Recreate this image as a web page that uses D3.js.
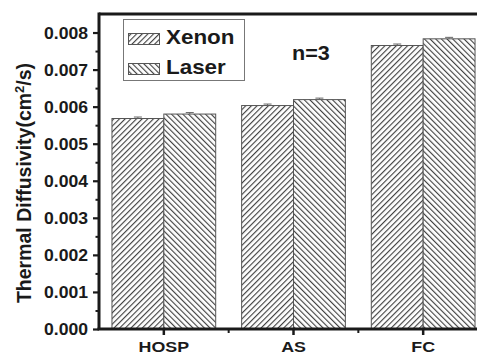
<!DOCTYPE html>
<html>
<head>
<meta charset="utf-8">
<script src="https://cdn.jsdelivr.net/npm/d3@7"></script>
<style>
  html, body { margin: 0; padding: 0; background: #fff; }
  svg { display: block; }
  text { font-family: "Liberation Sans", Arial, sans-serif; font-weight: bold; fill: #1a1a1a; }
</style>
</head>
<body>
<svg id="chart" width="477" height="356"></svg>
<script>
const categories = ["HOSP", "AS", "FC"];
const seriesNames = ["Xenon", "Laser"];
const xenonValues = [0.00568, 0.00603, 0.00765];
const laserValues = [0.00580, 0.00619, 0.00783];
const xenonErrors = [0.00004, 0.00004, 0.00004];
const laserErrors = [0.00004, 0.00004, 0.00004];
const yTickValues = [0, 0.001, 0.002, 0.003, 0.004, 0.005, 0.006, 0.007, 0.008];
const yMinorTicks = [0.0005, 0.0015, 0.0025, 0.0035, 0.0045, 0.0055, 0.0065, 0.0075];
const annotation = "n=3";

(function () {
const svg = d3.select("#chart");
const pLeft = 99, pRight = 488, pTop = 14, pBottom = 329;

const x = d3.scaleBand().domain(categories).range([pLeft, pRight]).paddingInner(0.2).paddingOuter(0.1);
const xs = d3.scaleBand().domain(seriesNames).range([0, x.bandwidth()]);
const y = d3.scaleLinear().domain([0, 0.0085]).range([pBottom, pTop]);

// patterns
const defs = svg.append("defs");
const hs = 4.0;
function hatch(id, angle) {
  const p = defs.append("pattern").attr("id", id).attr("patternUnits", "userSpaceOnUse")
    .attr("width", hs).attr("height", 10).attr("patternTransform", `rotate(${angle})`);
  p.append("rect").attr("width", hs).attr("height", 10).attr("fill", "#fff");
  p.append("line").attr("x1", 0.6).attr("y1", 0).attr("x2", 0.6).attr("y2", 10)
    .attr("stroke", "#333").attr("stroke-width", 1.05);
}
hatch("hatchX", 45);
hatch("hatchL", -45);
const fills = { Xenon: "url(#hatchX)", Laser: "url(#hatchL)" };

const rows = categories.map((c, i) => ({
  cat: c,
  vals: [
    { s: "Xenon", v: xenonValues[i], e: xenonErrors[i] },
    { s: "Laser", v: laserValues[i], e: laserErrors[i] }
  ]
}));

// bars
const g = svg.append("g");
rows.forEach(r => {
  r.vals.forEach(d => {
    const bx = x(r.cat) + xs(d.s);
    g.append("rect")
      .attr("x", bx).attr("y", y(d.v))
      .attr("width", xs.bandwidth()).attr("height", y(0) - y(d.v))
      .attr("fill", fills[d.s]).attr("stroke", "#555").attr("stroke-width", 1);
    const cx = bx + xs.bandwidth() / 2;
    g.append("line").attr("x1", cx).attr("x2", cx).attr("y1", y(d.v)).attr("y2", y(d.v + d.e))
      .attr("stroke", "#666").attr("stroke-width", 1);
    g.append("line").attr("x1", cx - 4).attr("x2", cx + 4).attr("y1", y(d.v + d.e)).attr("y2", y(d.v + d.e))
      .attr("stroke", "#666").attr("stroke-width", 1);
  });
});

// frame top / right
svg.append("line").attr("x1", pLeft).attr("x2", pRight).attr("y1", pTop).attr("y2", pTop)
  .attr("stroke", "#1a1a1a").attr("stroke-width", 3);
svg.append("line").attr("x1", pRight).attr("x2", pRight).attr("y1", pTop).attr("y2", pBottom)
  .attr("stroke", "#1a1a1a").attr("stroke-width", 3);

// y axis
const yAxis = svg.append("g").attr("transform", `translate(${pLeft},0)`)
  .call(d3.axisLeft(y).tickValues(yTickValues).tickFormat(d3.format(".3f")).tickSize(6).tickSizeOuter(0));
yAxis.select(".domain").attr("stroke", "#1a1a1a").attr("stroke-width", 3).attr("d", `M0,${pTop - 1.5}V${pBottom}`);
yAxis.selectAll(".tick line").attr("stroke", "#1a1a1a").attr("stroke-width", 2.2);
yAxis.selectAll(".tick text")
  .attr("x", 0).attr("dy", null)
  .attr("transform", `translate(-11,5.8) scale(1.1,1)`)
  .style("font-size", "16px").attr("fill", "#1a1a1a")
  .attr("font-family", null);
svg.append("g").attr("transform", `translate(${pLeft},0)`)
  .call(d3.axisLeft(y).tickValues(yMinorTicks).tickSize(3.5).tickFormat(""))
  .call(a => { a.select(".domain").remove(); a.selectAll(".tick line").attr("stroke", "#1a1a1a").attr("stroke-width", 2); });

// x axis
const xAxis = svg.append("g").attr("transform", `translate(0,${pBottom})`)
  .call(d3.axisBottom(x).tickSize(6).tickSizeOuter(0));
xAxis.select(".domain").attr("stroke", "#1a1a1a").attr("stroke-width", 3).attr("d", `M${pLeft - 1.5},0H${pRight}`);
xAxis.selectAll(".tick line").attr("stroke", "#1a1a1a").attr("stroke-width", 2.5);
xAxis.selectAll(".tick text")
  .attr("y", 0).attr("dy", null)
  .attr("transform", `translate(0,23) scale(1.15,1)`)
  .style("font-size", "15.5px").attr("fill", "#1a1a1a").attr("font-family", null);
const boundaries = categories.slice(1).map(c => x(c) - x.step() * x.paddingInner() / 2);
svg.append("g").selectAll("line").data(boundaries).join("line")
  .attr("x1", d => d).attr("x2", d => d).attr("y1", pBottom).attr("y2", pBottom + 4)
  .attr("stroke", "#1a1a1a").attr("stroke-width", 2);

// y label
svg.append("text")
  .attr("transform", "translate(31,183) rotate(-90)")
  .attr("text-anchor", "middle")
  .style("font-size", "19.5px")
  .call(t => {
    t.append("tspan").text("Thermal Diffusivity(cm");
    t.append("tspan").attr("dy", -7).style("font-size", "13px").text("2");
    t.append("tspan").attr("dy", 7).text("/s)");
  });

// legend
const lg = svg.append("g");
lg.append("rect").attr("x", 123.5).attr("y", 19.5).attr("width", 121).attr("height", 61)
  .attr("fill", "#fff").attr("stroke", "#777").attr("stroke-width", 1);
seriesNames.forEach((s, i) => {
  const yy = 33 + i * 30;
  lg.append("rect").attr("x", 128.5).attr("y", yy + 0.5).attr("width", 31).attr("height", 11)
    .attr("fill", fills[s]).attr("stroke", "#555").attr("stroke-width", 1);
  lg.append("text").attr("transform", `translate(166,${yy + 10.5}) scale(1.15,1)`)
    .style("font-size", "19.5px").text(s);
});

// annotation
svg.append("text").attr("transform", `translate(292,60) scale(1.08,1)`)
  .style("font-size", "20px").text(annotation);
})();
</script>
</body>
</html>
